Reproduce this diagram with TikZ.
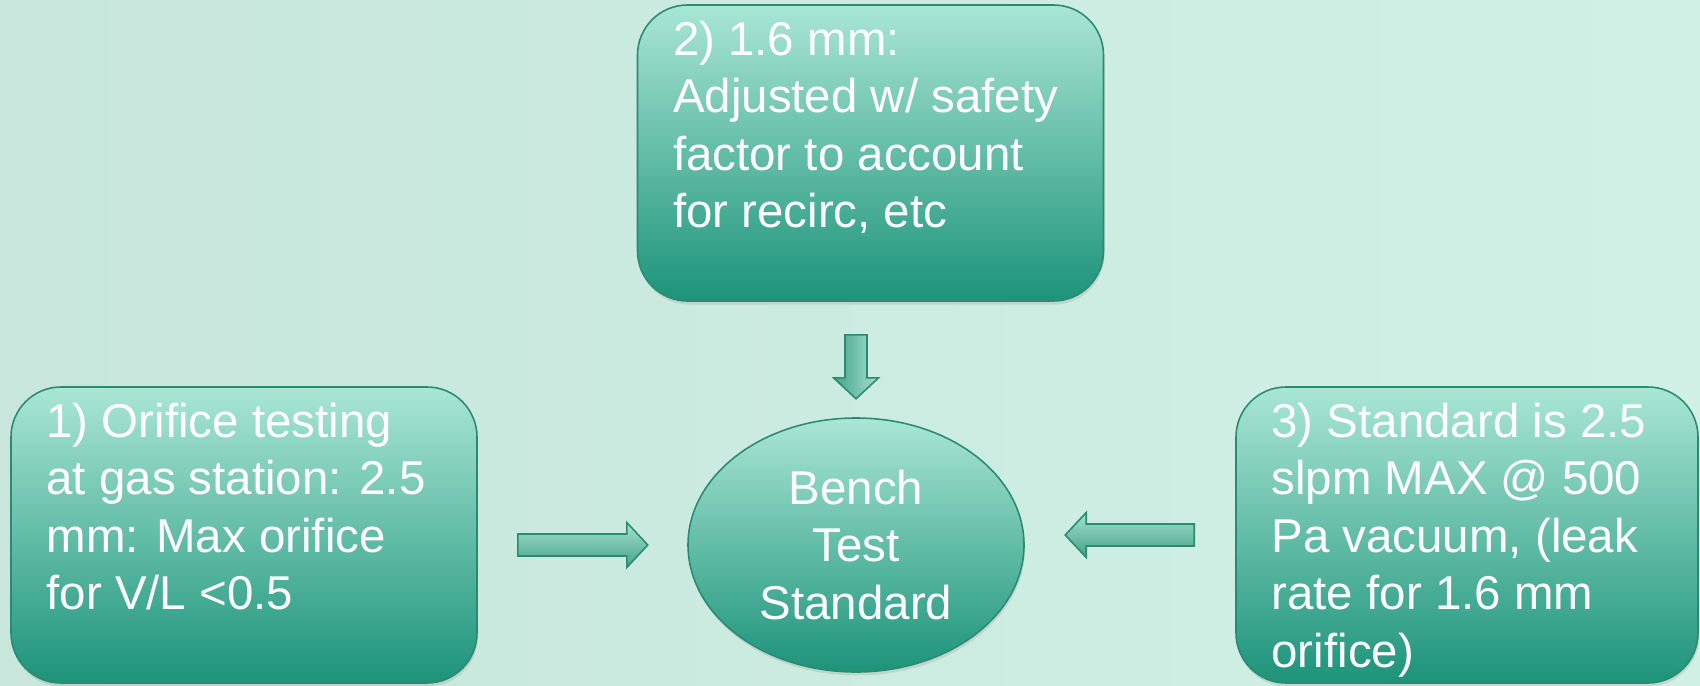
\documentclass[tikz,border=0pt]{standalone}
\usepackage{fontspec}
\setmainfont{Liberation Sans}
\usetikzlibrary{positioning,shapes.geometric,shadows}

\definecolor{bgleft}{HTML}{C8E6DB}
\definecolor{bgmid}{HTML}{D3F3E9}
\definecolor{bgright}{HTML}{D0F0E6}
\definecolor{boxtop}{HTML}{A9E6D4}
\definecolor{boxmid}{HTML}{6DBBA3}
\definecolor{boxbot}{HTML}{1D937A}
\definecolor{tealline}{HTML}{2B8B71}
\definecolor{arrtop}{HTML}{A3E2CD}
\definecolor{arrbot}{HTML}{45A188}

\tikzset{
  stepbox/.style={rectangle, rounded corners=1cm, draw=tealline, line width=0.9pt,
    top color=boxtop, middle color=boxmid, bottom color=boxbot,
    minimum width=9.32cm, minimum height=5.92cm, inner sep=0pt,
    drop shadow={shadow xshift=0.02cm, shadow yshift=-0.07cm, opacity=0.2}},
  boxtext/.style={text=white, align=left, inner sep=0pt, font=\fontsize{27}{32.7}\selectfont},
  benchnode/.style={ellipse, draw=tealline, line width=0.9pt,
    top color=boxtop, middle color=boxmid, bottom color=boxbot,
    minimum width=6.72cm, minimum height=5.08cm, inner sep=0pt,
    text=white, align=center, font=\fontsize{27}{32.7}\selectfont,
    drop shadow={shadow xshift=0.02cm, shadow yshift=-0.07cm, opacity=0.2}},
  arrowbody/.style={draw=tealline, line width=0.9pt, top color=arrtop, bottom color=arrbot}
}

% block arrow: start, options, length
\newcommand{\blockarrow}[3]{%
  \path[arrowbody, shift={(#1)}, #2] (0,-0.22) -- (#3-0.42,-0.22) -- (#3-0.42,-0.45)
    -- (#3,0) -- (#3-0.42,0.45) -- (#3-0.42,0.22) -- (0,0.22) -- cycle;}

\begin{document}
\begin{tikzpicture}
  \useasboundingbox (0,0) rectangle (34,13.7);
  \shade[left color=bgleft, middle color=bgmid, right color=bgright] (0,0) rectangle (34,13.7);

  % boxes
  \node[stepbox] (topbox) at (17.41,10.64) {};
  \node[stepbox] (leftbox) at (4.88,3.0) {};
  \node[stepbox, minimum width=9.24cm] (rightbox) at (29.34,3.0) {};
  \node[benchnode] (bench) at (17.12,2.8) {Bench\\Test\\Standard};

  % texts
  \node[boxtext, below right=0.214cm and 0.72cm of topbox.north west] (toptext)
    {\strut 2) 1.6 mm:\\Adjusted w/ safety\\factor to account\\for recirc, etc};
  \node[boxtext, below right=0.214cm and 0.72cm of leftbox.north west] (lefttext)
    {\strut 1) Orifice testing\\at gas station: 2.5\\mm: Max orifice\\for V/L <0.5};
  \node[boxtext, below right=0.214cm and 0.72cm of rightbox.north west] (righttext)
    {\strut 3) Standard is 2.5\\slpm MAX @ 500\\Pa vacuum, (leak\\rate for 1.6 mm\\orifice)};

  % arrows
  \coordinate (t1) at ([yshift=-0.66cm]topbox.south);
  \coordinate (tstart) at (bench |- t1);
  \coordinate (l1) at ([xshift=0.8cm]leftbox.east);
  \coordinate (lstart) at (l1 |- bench);
  \coordinate (rstart) at ([xshift=-0.82cm]rightbox.west);

  \blockarrow{tstart}{rotate=-90, shading angle=-90}{1.28}
  \blockarrow{lstart}{}{2.6}
  \blockarrow{rstart}{xscale=-1}{2.58}
\end{tikzpicture}
\end{document}
